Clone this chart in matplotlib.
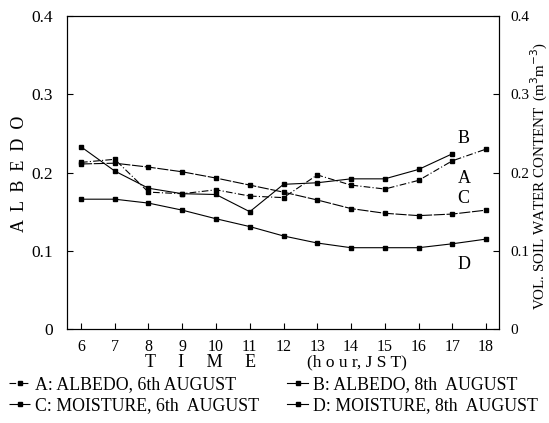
import matplotlib
matplotlib.use("Agg")
import matplotlib.pyplot as plt
from matplotlib.ticker import FuncFormatter

plt.rcParams['font.family'] = ['Liberation Serif', 'DejaVu Serif']

# hours (JST)
hours = [6, 7, 8, 9, 10, 11, 12, 13, 14, 15, 16, 17, 18]
hours_b = hours[:-1]

# albedo, 6th and 8th August
albedo_a = [0.213, 0.217, 0.175, 0.173, 0.178, 0.170, 0.168, 0.197, 0.184, 0.179, 0.190, 0.215, 0.230]
albedo_b = [0.233, 0.202, 0.180, 0.173, 0.172, 0.150, 0.185, 0.187, 0.192, 0.192, 0.204, 0.224]

# volumetric soil water content, 6th and 8th August
moist_c = [0.211, 0.212, 0.207, 0.201, 0.193, 0.184, 0.175, 0.165, 0.154, 0.148, 0.145, 0.147, 0.152]
moist_d = [0.166, 0.166, 0.161, 0.152, 0.141, 0.131, 0.119, 0.110, 0.104, 0.104, 0.104, 0.109, 0.115]

yticks = [0, 0.1, 0.2, 0.3, 0.4]
fmt = FuncFormatter(lambda v, p: '0' if v == 0 else '%.1f' % v)

fig = plt.figure(figsize=(5.49, 4.23), dpi=100)
ax = fig.add_axes([0.122, 0.222, 0.787, 0.740])
ax2 = ax.twinx()

kw = dict(color='black', lw=0.8, marker='s', ms=2.2)
la, = ax.plot(hours, albedo_a, ls=(0, (6, 2, 1, 2)), **kw)
lb, = ax.plot(hours_b, albedo_b, ls='-', **kw)
lc, = ax2.plot(hours, moist_c, ls=(0, (10, 1.5)), **kw)
ld, = ax2.plot(hours, moist_d, ls='-', **kw)

for a in (ax, ax2):
    a.set_ylim(0, 0.4)
    a.set_yticks(yticks)
    a.yaxis.set_major_formatter(fmt)
    a.tick_params(direction='in', length=4, width=0.8)
    for s in a.spines.values():
        s.set_linewidth(0.8)
ax.tick_params(axis='y', labelsize=12.5, pad=10)
ax2.tick_params(axis='y', labelsize=11, pad=8)
ax.set_xlim(5.585, 18.385)
ax.set_xticks(hours)
ax.tick_params(axis='x', pad=7, labelsize=11.5)

# curve labels
ax.text(17.15, 0.244, 'B', fontsize=13, ha='left', va='center')
ax.text(17.15, 0.192, 'A', fontsize=13, ha='left', va='center')
ax.text(17.15, 0.167, 'C', fontsize=13, ha='left', va='center')
ax.text(17.15, 0.083, 'D', fontsize=13, ha='left', va='center')

fig.text(0.035, 0.59, 'A  L  B  E  D  O', fontsize=13, rotation=90,
         ha='center', va='center')
fig.text(0.983, 0.585, 'VOL. SOIL WATER CONTENT  (m$^3$m$^{-3}$)', fontsize=10.8,
         rotation=90, ha='center', va='center')
fig.text(0.365, 0.143, 'T     I     M     E', fontsize=13, ha='center', va='center')
fig.text(0.65, 0.143, '(h o u r, J S T)', fontsize=12.5, ha='center', va='center')

fig.legend([la, lc, lb, ld],
           ['A: ALBEDO, 6th AUGUST', 'C: MOISTURE, 6th  AUGUST',
            'B: ALBEDO, 8th  AUGUST', 'D: MOISTURE, 8th  AUGUST'],
           loc='lower left', bbox_to_anchor=(0.0, 0.0), ncol=2, frameon=False,
           fontsize=12.8, handlelength=1.2, handletextpad=0.25, columnspacing=1.6,
           labelspacing=0.2, borderaxespad=0.2, borderpad=0.3)

fig.savefig('out.png', dpi=100)
